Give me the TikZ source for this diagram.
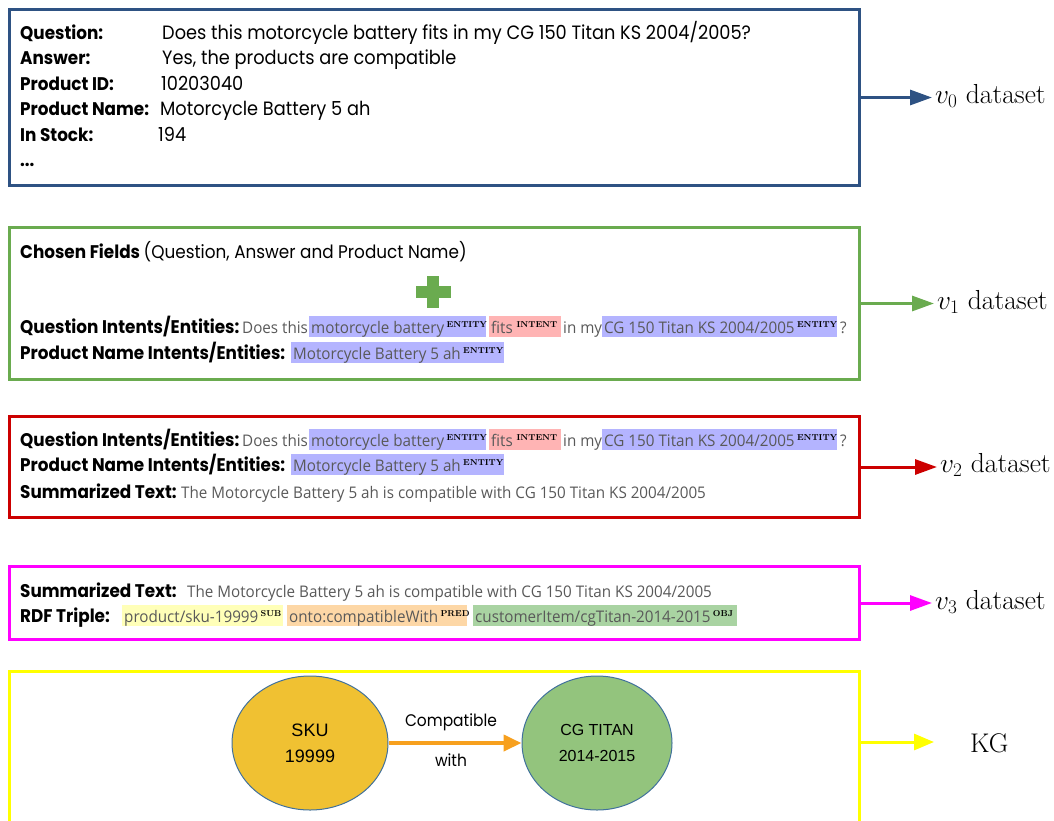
\RequirePackage{fix-cm}
\documentclass[tikz,border=0pt]{standalone}
\usepackage{fontspec}
\usetikzlibrary{arrows.meta,shapes.geometric}
\newfontfamily\fut[FakeStretch=0.92]{Poppins}
\newfontfamily\seg[FakeStretch=0.95]{Open Sans}
\newfontfamily\arl{Liberation Sans}
\definecolor{cblue}{HTML}{2E5283}
\definecolor{cgreen}{HTML}{6AAB4F}
\definecolor{cred}{HTML}{CC0000}
\definecolor{cmag}{HTML}{FF00FF}
\definecolor{cyel}{HTML}{FFFF00}
\definecolor{hlb}{HTML}{B4B4FF}
\definecolor{hlp}{HTML}{FFB4B4}
\definecolor{hly}{HTML}{FFFFB8}
\definecolor{hlo}{HTML}{FDD7A6}
\definecolor{hlg}{HTML}{A9D3A2}
\definecolor{gtx}{HTML}{595959}
\definecolor{skuf}{HTML}{F0C132}
\definecolor{cgf}{HTML}{93C47D}
\definecolor{ell}{HTML}{41719C}
\definecolor{corange}{HTML}{F7A01E}
\tikzset{
 panel/.style={draw=#1, line width=3pt, anchor=north west, inner sep=0},
 lbl/.style={anchor=base west, inner sep=0, font=\fut\bfseries\fontsize{18.3}{22}\selectfont},
 val/.style={anchor=base west, inner sep=0, font=\fut\fontsize{19.3}{22}\selectfont},
 gtxt/.style={anchor=base west, inner sep=0, text=gtx, font=\seg\fontsize{16}{19}\selectfont},
 suptxt/.style={anchor=base west, inner sep=0, font=\rmfamily\bfseries\fontsize{8.6}{10}\selectfont},
 dlab/.style={anchor=west, inner sep=0, font=\rmfamily\fontsize{27.5}{32}\selectfont},
 outarrow/.style={line width=3pt, draw=#1, shorten >=3pt, -{Triangle[length=22pt,width=15pt,fill=#1]}},
}
% highlighted span: name, colour, x0, x1, baseline, text, sup
\newcommand\myhl[7]{%
 \fill[#2] (#3,#5-17) rectangle (#4,#5+4);
 \node[gtxt] (#1) at (#3+2,#5) {#6};
 \node[suptxt, anchor=base west, xshift=2pt, yshift=6pt] (#1s) at (#1.base east) {#7};
}
\newcommand\myqline[2]{%
 \node[lbl] (#1l) at (20,#2) {Question Intents/Entities:};
 \node[gtxt] (#1a) at (242,#2) {Does this};
 \myhl{#1b}{hlb}{309}{486}{#2}{motorcycle battery}{ENTITY}
 \myhl{#1c}{hlp}{489}{561}{#2}{fits}{\,INTENT}
 \node[gtxt] (#1d) at (563,#2) {in my};
 \myhl{#1e}{hlb}{602}{837}{#2}{CG 150 Titan KS 2004/2005}{ENTITY}
 \node[gtxt] (#1f) at (840,#2) {?};
}
\newcommand\mypline[2]{%
 \node[lbl] (#1l) at (20,#2) {Product Name Intents/Entities:};
 \myhl{#1b}{hlb}{291}{504}{#2}{Motorcycle Battery 5 ah}{ENTITY}
}
\begin{document}
\begin{tikzpicture}[x=1pt,y=-1pt]
\useasboundingbox (0,0) rectangle (1054,820);
% ---------- v0 ----------
\node[panel=cblue, minimum width=850, minimum height=176] (b0) at (8,8) {};
\node[lbl] (q0) at (20,39) {Question:};
\node[lbl] (a0) at (20,64) {Answer:};
\node[lbl] (p0) at (20,90) {Product ID:};
\node[lbl] (n0) at (20,115) {Product Name:};
\node[lbl] (s0) at (20,141) {In Stock:};
\node[lbl] (d0) at (20,166) {...};
\node[val] (qv) at (162,39) {Does this motorcycle battery fits in my CG 150 Titan KS 2004/2005?};
\node[val] (av) at (162,64) {Yes, the products are compatible};
\node[val] (pv) at (161,90) {10203040};
\node[val] (nv) at (160,115) {Motorcycle Battery 5 ah};
\node[val] (sv) at (158,141) {194};
\node[dlab] (t0) at (935,96) {$v_0$ dataset};
\draw[outarrow=cblue] (b0.east) -- (b0.east -| t0.west);
% ---------- v1 ----------
\node[panel=cgreen, minimum width=850, minimum height=152] (b1) at (8,226) {};
\node[lbl] (c1) at (20,258) {Chosen Fields {\mdseries(Question, Answer and Product Name)}};
\fill[cgreen] (416,286) rectangle (451,298);
\fill[cgreen] (427,276) rectangle (439,308);
\myqline{qa}{333}
\mypline{pa}{359}
\node[dlab] (t1) at (937,302) {$v_1$ dataset};
\draw[outarrow=cgreen] (b1.east) -- (b1.east -| t1.west);
% ---------- v2 ----------
\node[panel=cred, minimum width=850, minimum height=101] (b2) at (8,415) {};
\myqline{qb}{446}
\mypline{pb}{471}
\node[lbl] (s2) at (20,498) {Summarized Text:};
\node[gtxt] (s2t) at (181,498) {The Motorcycle Battery 5 ah is compatible with CG 150 Titan KS 2004/2005};
\node[dlab] (t2) at (940,465) {$v_2$ dataset};
\draw[outarrow=cred] (b2.east) -- (b2.east -| t2.west);
% ---------- v3 ----------
\node[panel=cmag, minimum width=850, minimum height=73] (b3) at (8,565) {};
\node[lbl] (s3) at (20,597) {Summarized Text:};
\node[gtxt] (s3t) at (187,597) {The Motorcycle Battery 5 ah is compatible with CG 150 Titan KS 2004/2005};
\node[lbl] (r3) at (20,622) {RDF Triple:};
\myhl{r3a}{hly}{122}{283}{622}{product/sku-19999}{SUB}
\myhl{r3b}{hlo}{287}{467}{622}{onto:compatibleWith}{PRED}
\myhl{r3c}{hlg}{473}{737}{622}{customerItem/cgTitan-2014-2015}{OBJ}
\node[dlab] (t3) at (935,602) {$v_3$ dataset};
\draw[outarrow=cmag] (b3.east) -- (b3.east -| t3.west);
% ---------- KG ----------
\node[panel=cyel, minimum width=850, minimum height=170] (b4) at (8,670) {};
\node[ellipse, draw=ell, line width=1, fill=skuf, minimum width=156, minimum height=134, align=center, font=\arl\fontsize{18}{26}\selectfont] (sku) at (310,743) {SKU\\19999};
\node[ellipse, draw=ell, line width=1, fill=cgf, minimum width=150, minimum height=134, align=center, font=\arl\fontsize{16}{26}\selectfont] (cg) at (597,743) {CG TITAN\\2014-2015};
\draw[corange, line width=4, -{Triangle[length=18pt,width=16pt,fill=corange]}] (sku) -- (cg);
\node[font=\fut\fontsize{16.8}{20}\selectfont] (cw1) at (451,722) {Compatible};
\node[font=\fut\fontsize{16.8}{20}\selectfont] (cw2) at (451,760) {with};
\node[anchor=west, inner sep=0, font=\rmfamily\fontsize{27}{30}\selectfont] (kg) at (970,743) {KG};
\coordinate (kgtip) at (934,742);
\draw[line width=3pt, cyel, -{Triangle[length=20pt,width=16pt,fill=cyel]}] (kgtip -| b4.east) -- (kgtip);
\end{tikzpicture}
\end{document}
